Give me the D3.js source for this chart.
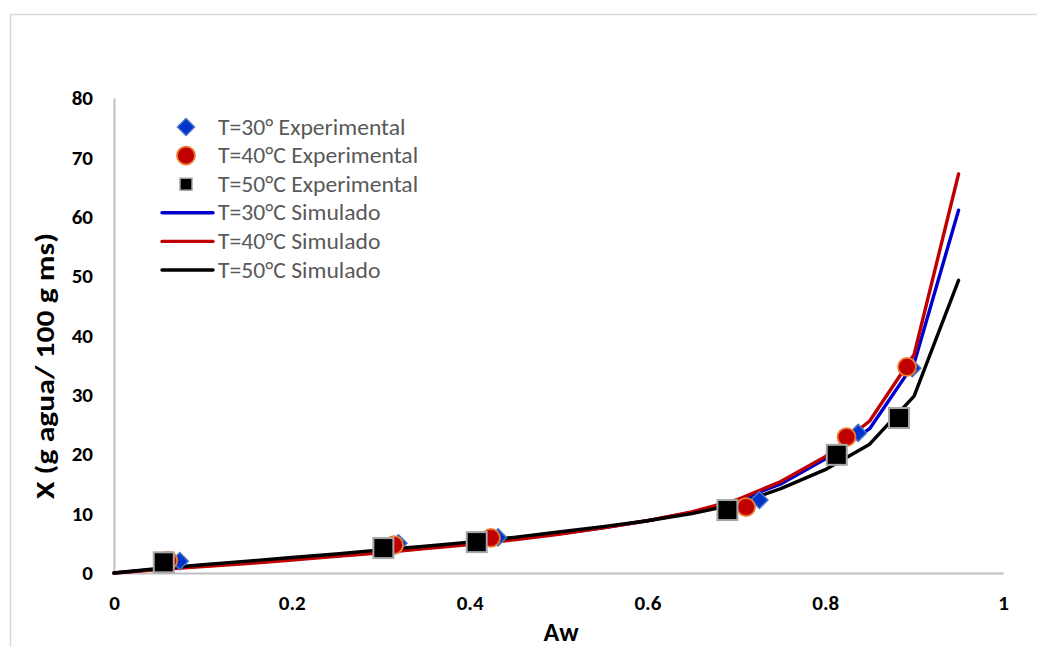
<!DOCTYPE html>
<html lang="es">
  <head>
    <meta charset="utf-8" />
    <title>Isotermas de sorción</title>
    <script src="https://d3js.org/d3.v7.min.js" charset="utf-8"></script>
    <style>
      body { margin: 0; background: #fff; }
      svg { display: block; }
    </style>
  </head>
  <body>
    <div id="chart"></div>
    <script type="text/javascript">
      // experimental points (aw, X)
      const aw30 = [0.074, 0.32, 0.432, 0.726, 0.837, 0.898];
      const x30 = [2.0, 5.0, 6.0, 12.3, 23.6, 34.5];
      const aw40 = [0.061, 0.315, 0.424, 0.711, 0.824, 0.892];
      const x40 = [2.1, 4.7, 5.9, 11.1, 22.9, 34.7];
      const aw50 = [0.056, 0.303, 0.408, 0.69, 0.813, 0.883];
      const x50 = [1.8, 4.2, 5.2, 10.6, 19.9, 26.1];

      // simulated curves
      const awSim = [0, 0.05, 0.1, 0.15, 0.2, 0.25, 0.3, 0.35, 0.4, 0.45, 0.5,
        0.55, 0.6, 0.65, 0.7, 0.75, 0.8, 0.85, 0.9, 0.95];
      const sim30 = [0, 0.65, 1.2, 1.7, 2.3, 2.9, 3.5, 4.2, 4.9, 5.7, 6.6,
        7.6, 8.8, 10.2, 12.1, 15.0, 19.2, 24.3, 35.3, 61.1];
      const sim40 = [0, 0.6, 1.1, 1.6, 2.2, 2.8, 3.4, 4.1, 4.8, 5.6, 6.5,
        7.6, 8.8, 10.3, 12.3, 15.4, 19.6, 25.6, 36.8, 67.2];
      const sim50 = [0, 0.75, 1.4, 2.0, 2.6, 3.2, 3.9, 4.5, 5.2, 6.0, 6.9,
        7.8, 8.8, 10.0, 11.6, 14.2, 17.4, 21.7, 29.8, 49.3];

      const xTicks = [0, 0.2, 0.4, 0.6, 0.8, 1];
      const yTicks = [0, 10, 20, 30, 40, 50, 60, 70, 80];
      const legendLabels = [
        "T=30° Experimental",
        "T=40°C Experimental",
        "T=50°C Experimental",
        "T=30°C Simulado",
        "T=40°C Simulado",
        "T=50°C Simulado",
      ];

      const W = 1037, H = 647;
      const font = "Carlito, Lato, 'Noto Sans', sans-serif";

      const svg = d3.select("#chart").append("svg")
        .attr("width", W).attr("height", H);

      // chart area border
      svg.append("rect")
        .attr("x", 10.5).attr("y", 14.5)
        .attr("width", 1200).attr("height", 1000)
        .attr("fill", "#fff").attr("stroke", "#d9d9d9").attr("stroke-width", 1.5);

      const xScale = d3.scaleLinear().domain([0, 1]).range([114, 1003]);
      const yScale = d3.scaleLinear().domain([0, 80]).range([573, 98]);

      // axes
      const xAxis = svg.append("g")
        .attr("transform", `translate(0,${yScale(0)})`)
        .call(d3.axisBottom(xScale).tickValues(xTicks).tickSize(0).tickPadding(22)
          .tickFormat(d => d));
      const yAxis = svg.append("g")
        .attr("transform", `translate(${xScale(0)},0)`)
        .call(d3.axisLeft(yScale).tickValues(yTicks).tickSize(0).tickPadding(21));
      [xAxis, yAxis].forEach(a => {
        a.select(".domain").attr("stroke", "#bfbfbf").attr("stroke-width", 2);
        a.selectAll("text")
          .attr("font-family", font).attr("font-weight", "bold")
          .attr("font-size", 21).attr("fill", "#000");
      });

      // axis titles
      svg.append("text")
        .attr("x", 561).attr("y", 641)
        .attr("text-anchor", "middle")
        .attr("font-family", font).attr("font-weight", "bold").attr("font-size", 26)
        .text("Aw");
      svg.append("text")
        .attr("transform", "translate(54,366) rotate(-90)")
        .attr("text-anchor", "middle")
        .attr("font-family", font).attr("font-weight", "bold").attr("font-size", 26)
        .attr("textLength", 266).attr("lengthAdjust", "spacingAndGlyphs")
        .text("X (g agua/ 100 g ms)");

      // simulated lines
      const line = d3.line()
        .x(d => xScale(d[0]))
        .y(d => yScale(d[1]));
      const sims = [
        { v: sim30, color: "#0000cc" },
        { v: sim40, color: "#c00000" },
        { v: sim50, color: "#000000" },
      ];
      sims.forEach(s => {
        svg.append("path")
          .datum(awSim.map((a, i) => [a, s.v[i]]))
          .attr("d", line)
          .attr("fill", "none")
          .attr("stroke", s.color)
          .attr("stroke-width", 3.4)
          .attr("stroke-linejoin", "round")
          .attr("stroke-linecap", "round");
      });

      // markers
      function diamond(g, cx, cy) {
        g.append("rect")
          .attr("x", -6).attr("y", -6).attr("width", 12).attr("height", 12)
          .attr("transform", `translate(${cx},${cy}) rotate(45)`)
          .attr("fill", "#0033cc").attr("stroke", "#4472c4").attr("stroke-width", 1.5);
      }
      function circle(g, cx, cy) {
        g.append("circle")
          .attr("cx", cx).attr("cy", cy).attr("r", 9)
          .attr("fill", "#c00000").attr("stroke", "#ed7d31").attr("stroke-width", 1.8);
      }
      function square(g, cx, cy) {
        g.append("rect")
          .attr("x", cx - 10).attr("y", cy - 10).attr("width", 20).attr("height", 20)
          .attr("fill", "#000").attr("stroke", "#a6a6a6").attr("stroke-width", 2);
      }

      const marks = svg.append("g");
      aw30.forEach((a, i) => diamond(marks, xScale(a), yScale(x30[i])));
      aw40.forEach((a, i) => circle(marks, xScale(a), yScale(x40[i])));
      aw50.forEach((a, i) => square(marks, xScale(a), yScale(x50[i])));

      // legend
      const legend = svg.append("g");
      const legendY = d3.scaleLinear().domain([0, 5]).range([127, 270]);
      legendLabels.forEach((label, i) => {
        const y = legendY(i);
        if (i === 0) diamond(legend, 186, y);
        if (i === 1) circle(legend, 186, y);
        if (i === 2) {
          legend.append("rect")
            .attr("x", 180).attr("y", y - 6).attr("width", 12).attr("height", 12)
            .attr("fill", "#000").attr("stroke", "#a6a6a6").attr("stroke-width", 1.5);
        }
        if (i >= 3) {
          legend.append("line")
            .attr("x1", 162).attr("x2", 213).attr("y1", y).attr("y2", y)
            .attr("stroke", sims[i - 3].color).attr("stroke-width", 3.4)
            .attr("stroke-linecap", "round");
        }
        legend.append("text")
          .attr("transform", `translate(218,${y}) scale(1.1,1)`)
          .attr("dy", "0.35em")
          .attr("font-family", font).attr("font-size", 21.5)
          .attr("fill", "#595959")
          .text(label);
      });
    </script>
  </body>
</html>
